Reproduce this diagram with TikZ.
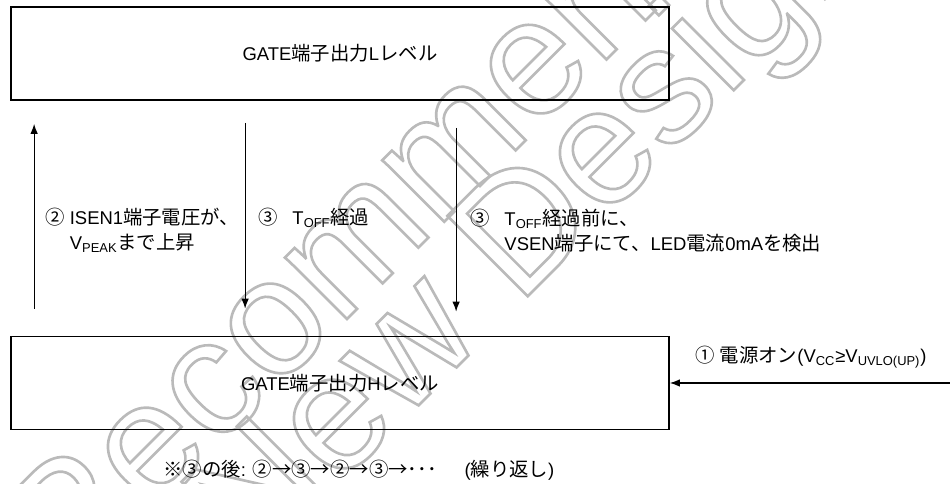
\documentclass[tikz,border=0pt]{standalone}
\usepackage{fontspec}
\usepackage{tikz}
\usetikzlibrary{arrows.meta}
\setmainfont{Liberation Sans}
\newfontfamily\jpfont[Scale=1.05]{Noto Sans CJK JP}
\newcommand{\ja}[1]{{\jpfont #1}}
\newcommand{\hollow}[1]{\special{pdf:literal direct 1 Tr 1.5 w}#1\special{pdf:literal direct 0 Tr}}

\begin{document}
\begin{tikzpicture}[
    lvlbox/.style={draw, line width=1pt, minimum width=13.16cm, minimum height=1.86cm, inner sep=0pt},
    flow/.style={line width=0.6pt, -{Latex[length=2mm, width=1.5mm]}},
    lbl/.style={anchor=west, inner sep=0pt, align=left},
    wmark/.style={rotate=45, anchor=base west, inner sep=0pt, text=black!27, font=\fontsize{94}{100}\selectfont},
    font=\fontsize{10.5}{14}\selectfont
  ]
  \useasboundingbox (0,0) rectangle (19,9.68);
  % watermark
  \begin{scope}
    \clip (0,0) rectangle (19,9.68);
    \node[wmark] (wmone) at (1.32,-2.32) {\hollow{Recommended for}};
    \node[wmark] (wmtwo) at (5.04,-1.76) {\hollow{New Design}};
  \end{scope}
  % levels
  \node[lvlbox] (toplvl) at (6.8,8.61) {GATE\ja{端子出力}L\ja{レベル}};
  \node[lvlbox] (botlvl) at (6.8,2.02) {GATE\ja{端子出力}H\ja{レベル}};
  % transitions
  \draw[flow] ([xshift=0.48cm, yshift=0.54cm]botlvl.north west) -- ([xshift=0.48cm, yshift=-0.46cm]toplvl.south west);
  \draw[flow] ([xshift=4.70cm, yshift=-0.44cm]toplvl.south west) -- ([xshift=4.70cm, yshift=0.54cm]botlvl.north west);
  \draw[flow] ([xshift=8.92cm, yshift=-0.54cm]toplvl.south west) -- ([xshift=8.92cm, yshift=0.48cm]botlvl.north west);
  \coordinate (pwrsrc) at (19,2.02);
  \draw[flow] (pwrsrc) -- (botlvl.east);
  % labels
  \node[lbl] (lblpeak) at (0.9,5.07) {\ja{②} ISEN1\ja{端子電圧が、}\\\hphantom{\ja{②} }V\textsubscript{PEAK}\ja{まで上昇}};
  \node[lbl] (lbltoff) at (5.16,5.32) {\ja{③}\hspace{0.8em}T\textsubscript{OFF}\ja{経過}};
  \node[lbl] (lblvsen) at (9.4,5.07) {\ja{③}\hspace{0.8em}T\textsubscript{OFF}\ja{経過前に、}\\\hphantom{\ja{③}\hspace{0.8em}}VSEN\ja{端子にて、}LED\ja{電流}0mA\ja{を検出}};
  \node[lbl] (lblpwr) at (13.9,2.54) {\ja{①} \ja{電源オン}(V\textsubscript{CC}≥V\textsubscript{UVLO(UP)})};
  \node[lbl] (note) at (3.26,0.28) {\ja{※③の後}: \ja{②→③→②→③→･･･}\hspace{1.5em}(\ja{繰り返し})};
\end{tikzpicture}
\end{document}
